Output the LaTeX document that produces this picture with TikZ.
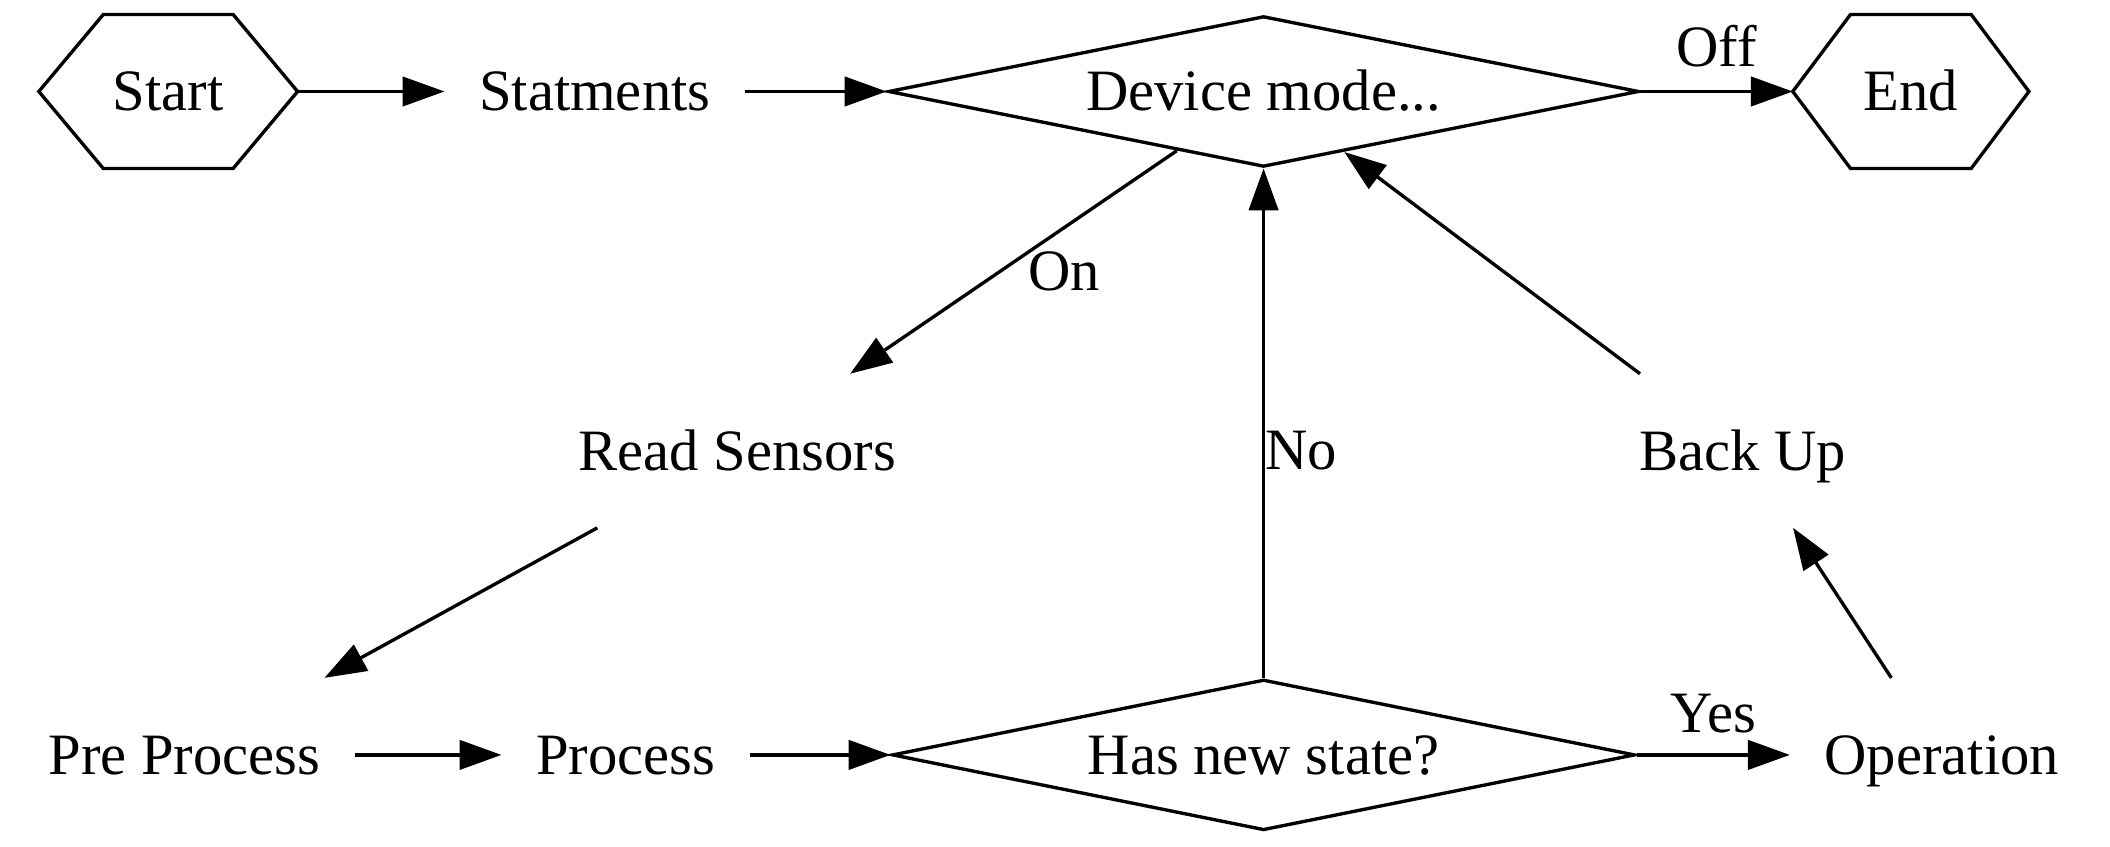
\documentclass[tikz,border=0pt]{standalone}
\usepackage{fontspec}
\setmainfont{Liberation Serif}
\usetikzlibrary{arrows.meta,shapes.geometric,positioning}

\begin{document}
\begin{tikzpicture}[x=0.3214pt,y=-0.3214pt,>={Triangle[length=10pt,width=7pt]},
  line width=0.8pt,font=\fontsize{14}{16}\selectfont,
  txt/.style={inner xsep=7.9pt,inner ysep=0pt,text height=9.2pt,text depth=0pt,
    minimum width=54pt,minimum height=36pt},
  hexbox/.style={txt,minimum width=#1},
  choice/.style={draw,diamond,aspect=5,inner sep=0pt,text height=9.2pt,text depth=0pt,
    minimum height=36pt,minimum width=#1}]
  \useasboundingbox (0,0) rectangle (1568,629);

  \node[hexbox=61pt] (start) at (125,68) {Start};
  \node[txt] (stm) at (442,68) {Statments};
  \node[choice=179.3pt] (mode) at (939,68) {Device mode...};
  \node[hexbox=55.6pt] (stop) at (1420,68) {End};

  \node[txt] (sensors) at (548,335) {Read Sensors};
  \node[txt] (backup) at (1295,335) {Back Up};

  \node[txt] (pre) at (137,561) {Pre Process};
  \node[txt] (proc) at (465,561) {Process};
  \node[choice=177.4pt] (state) at (939,561) {Has new state?};
  \node[txt] (op) at (1443,561) {Operation};

  % hexagon outlines
  \foreach \n/\c in {start/15.4pt,stop/13.8pt}
    \draw (\n.west) -- ([xshift=\c]\n.north west) -- ([xshift=-\c]\n.north east)
      -- (\n.east) -- ([xshift=-\c]\n.south east) -- ([xshift=\c]\n.south west) -- cycle;

  \draw[->] (start) -- (stm);
  \draw[->] (stm) -- (mode);
  \draw[->] (mode) -- node[above,yshift=2pt] {Off} (stop);
  \draw[->] (mode) -- node[pos=0.54,right=3pt] {On} (sensors);
  \draw[->] (sensors) -- (pre);
  \draw[->] (pre) -- (proc);
  \draw[->] (proc) -- (state);
  \draw[->] (state) -- node[above,yshift=1.6pt] {Yes} (op);
  \draw[->] (state) -- node[pos=0.446,right,inner sep=0pt] {No} (mode);
  \draw[->] (op) -- (backup);
  \draw[->] (backup) -- (mode);
\end{tikzpicture}
\end{document}
